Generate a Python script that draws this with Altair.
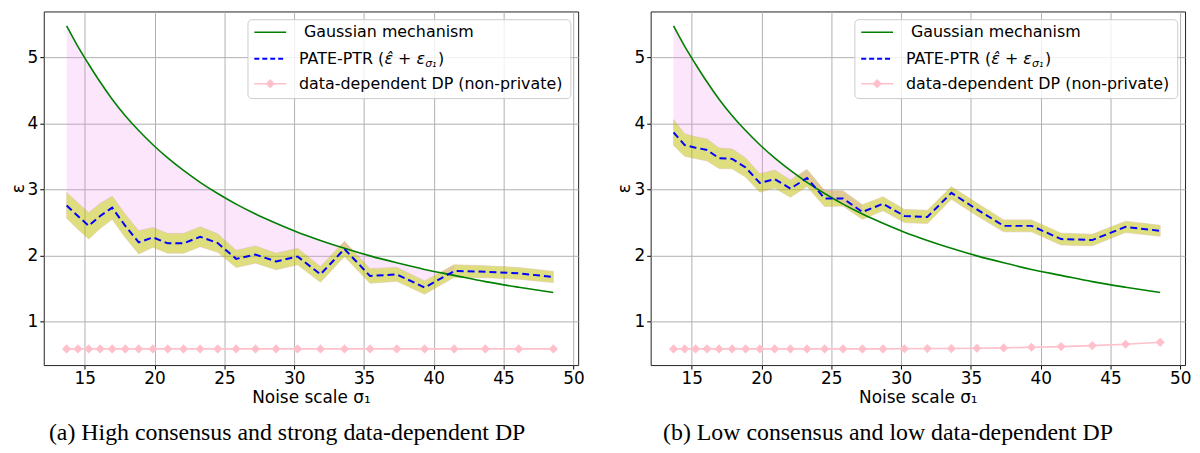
import altair as alt
import pandas as pd

# ---- data ----
sigma = [13.7, 14.5, 15.28, 16.1, 16.96, 17.9, 18.86, 19.88, 20.94, 22.07, 23.26, 24.52,
         25.84, 27.23, 28.7, 30.24, 31.88, 33.6, 35.43, 37.35, 39.34, 41.46, 43.69, 46.08, 48.56]

gauss = [5.48, 5.17, 4.90, 4.63, 4.37, 4.12, 3.895, 3.68, 3.48, 3.29, 3.11, 2.94,
         2.78, 2.63, 2.49, 2.355, 2.23, 2.11, 1.995, 1.89, 1.79, 1.70, 1.605, 1.52, 1.44]

ptr_a = [2.76, 2.60, 2.45, 2.60, 2.725, 2.45, 2.20, 2.275, 2.185, 2.185, 2.285, 2.19,
         1.95, 2.015, 1.91, 1.985, 1.715, 2.10, 1.69, 1.715, 1.515, 1.765, 1.755, 1.73, 1.675]
half_a = [0.195, 0.20, 0.20, 0.19, 0.175, 0.175, 0.175, 0.15, 0.15, 0.15, 0.15, 0.14,
          0.13, 0.13, 0.125, 0.125, 0.12, 0.115, 0.11, 0.105, 0.10, 0.095, 0.09, 0.088, 0.085]
dp_a = [0.585, 0.585, 0.585, 0.585, 0.585, 0.585, 0.585, 0.585, 0.585, 0.585, 0.585, 0.585,
        0.585, 0.585, 0.585, 0.585, 0.585, 0.585, 0.585, 0.585, 0.585, 0.585, 0.585, 0.585, 0.585]

ptr_b = [3.865, 3.675, 3.635, 3.60, 3.475, 3.465, 3.335, 3.10, 3.16, 3.015, 3.175, 2.865,
         2.865, 2.66, 2.785, 2.60, 2.585, 2.95, 2.70, 2.45, 2.45, 2.25, 2.235, 2.435, 2.375]
half_b = [0.195, 0.17, 0.165, 0.165, 0.155, 0.15, 0.145, 0.14, 0.135, 0.13, 0.13, 0.12,
          0.115, 0.11, 0.105, 0.10, 0.10, 0.095, 0.095, 0.09, 0.09, 0.09, 0.087, 0.085, 0.083]
dp_b = [0.585, 0.585, 0.585, 0.585, 0.585, 0.585, 0.585, 0.585, 0.585, 0.585, 0.585, 0.585,
        0.585, 0.585, 0.585, 0.587, 0.59, 0.59, 0.595, 0.60, 0.61, 0.62, 0.635, 0.655, 0.685]

x_ticks = [15, 20, 25, 30, 35, 40, 45, 50]
y_ticks = [1, 2, 3, 4, 5]

caption_a = "(a) High consensus and strong data-dependent DP"
caption_b = "(b) Low consensus and low data-dependent DP"

legend_labels = ["Gaussian mechanism", "PATE-PTR (", "data-dependent DP (non-private)"]

W, H = 538, 356
xs = alt.Scale(domain=[12.06, 50.34], nice=False, zero=False)
ys = alt.Scale(domain=[0.34, 5.70], nice=False, zero=False)
x_axis = alt.Axis(values=x_ticks, title="Noise scale σ₁", grid=True, titlePadding=3)
y_axis = alt.Axis(values=y_ticks, title="ε", grid=True, titlePadding=0)


def X():
    return alt.X("sigma:Q", scale=xs, axis=x_axis)


def Y(field):
    return alt.Y(field + ":Q", scale=ys, axis=y_axis)


def panel(ptr, half, dp, caption, dx):
    df = pd.DataFrame({"sigma": sigma, "gauss": gauss, "ptr": ptr, "half": half, "dp": dp})
    base = alt.Chart(df).transform_calculate(
        lo="datum.ptr - datum.half", hi="datum.ptr + datum.half"
    )
    band = base.mark_area(color="#bfbf00", opacity=0.5, stroke="#c09050",
                          strokeWidth=1, strokeOpacity=0.6).encode(
        x=X(), y=Y("lo"), y2="hi:Q")
    fill = base.transform_filter("datum.lo <= datum.gauss").mark_area(
        color="#ee82ee", opacity=0.2).encode(x=X(), y=Y("hi"), y2="gauss:Q")
    gline = base.mark_line(color="green", strokeWidth=1.6, interpolate="monotone").encode(
        x=X(), y=Y("gauss"))
    pline = base.mark_line(color="blue", strokeWidth=2, strokeDash=[7, 4]).encode(
        x=X(), y=Y("ptr"))
    dline = base.mark_line(color="pink", strokeWidth=1.6,
                           point=alt.OverlayMarkDef(shape="diamond", size=85, filled=True,
                                                    color="pink", opacity=1)).encode(
        x=X(), y=Y("dp"))

    leg = alt.Chart(pd.DataFrame({"k": [0]}))
    box = leg.mark_rect(fill="white", fillOpacity=0.8, stroke="#cccccc", strokeWidth=1,
                        cornerRadius=4).encode(
        x=alt.value(205.6), x2=alt.value(530.6), y=alt.value(8.3), y2=alt.value(87.7))
    s1 = leg.mark_rule(color="green", strokeWidth=1.6).encode(
        x=alt.value(212), x2=alt.value(244), y=alt.value(21))
    s2 = leg.mark_rule(color="blue", strokeWidth=2, strokeDash=[5, 3]).encode(
        x=alt.value(212), x2=alt.value(244), y=alt.value(47.7))
    s3 = leg.mark_rule(color="pink", strokeWidth=1.6).encode(
        x=alt.value(212), x2=alt.value(244), y=alt.value(72.7))
    s3p = leg.mark_point(shape="diamond", filled=True, color="pink", size=85, opacity=1).encode(
        x=alt.value(228), y=alt.value(72.7))
    tstyle = dict(align="left", baseline="middle", fontSize=16, font="DejaVu Sans", color="black")
    t1 = leg.mark_text(**tstyle).encode(x=alt.value(262), y=alt.value(21),
                                        text=alt.value(legend_labels[0]))
    t2 = leg.mark_text(**tstyle).encode(x=alt.value(257), y=alt.value(47.7),
                                        text=alt.value(legend_labels[1]))
    t2m = leg.mark_text(align="left", baseline="middle", fontSize=16, font="DejaVu Sans",
                        fontStyle="italic", color="black").encode(
        x=alt.value(343), y=alt.value(47.7), text=alt.value("ε̂ + ε"))
    t2s = leg.mark_text(align="left", baseline="middle", fontSize=11, font="DejaVu Sans",
                        fontStyle="italic", color="black").encode(
        x=alt.value(384), y=alt.value(52.5), text=alt.value("σ₁"))
    t2e = leg.mark_text(**tstyle).encode(x=alt.value(397), y=alt.value(47.7),
                                         text=alt.value(")"))
    t3 = leg.mark_text(**tstyle).encode(x=alt.value(257), y=alt.value(72.7),
                                        text=alt.value(legend_labels[2]))

    return alt.layer(band, fill, gline, pline, dline, box, s1, s2, s3, s3p,
                     t1, t2, t2m, t2s, t2e, t3).properties(
        width=W, height=H,
        title=alt.TitleParams(caption, orient="bottom", anchor="middle", dx=dx, offset=15),
    )


left = panel(ptr_a, half_a, dp_a, caption_a, -24)
right = panel(ptr_b, half_b, dp_b, caption_b, -30)

chart = alt.hconcat(left, right, spacing=30).properties(
    padding={"left": 0, "top": 1, "right": 0, "bottom": 0}
).configure_view(
    stroke="#222222", strokeWidth=1
).configure_axis(
    labelFont="DejaVu Sans", labelFontSize=17, titleFont="DejaVu Sans", titleFontSize=17,
    titleFontWeight="normal", labelColor="black", titleColor="black",
    gridColor="#b0b0b0", gridWidth=1, tickColor="black", tickSize=4, domain=False,
    labelPadding=2
).configure_title(
    font="Liberation Serif", fontSize=24, fontWeight="normal", color="black"
)

chart.save("out.html", embed_options={"renderer": "svg", "actions": False})
